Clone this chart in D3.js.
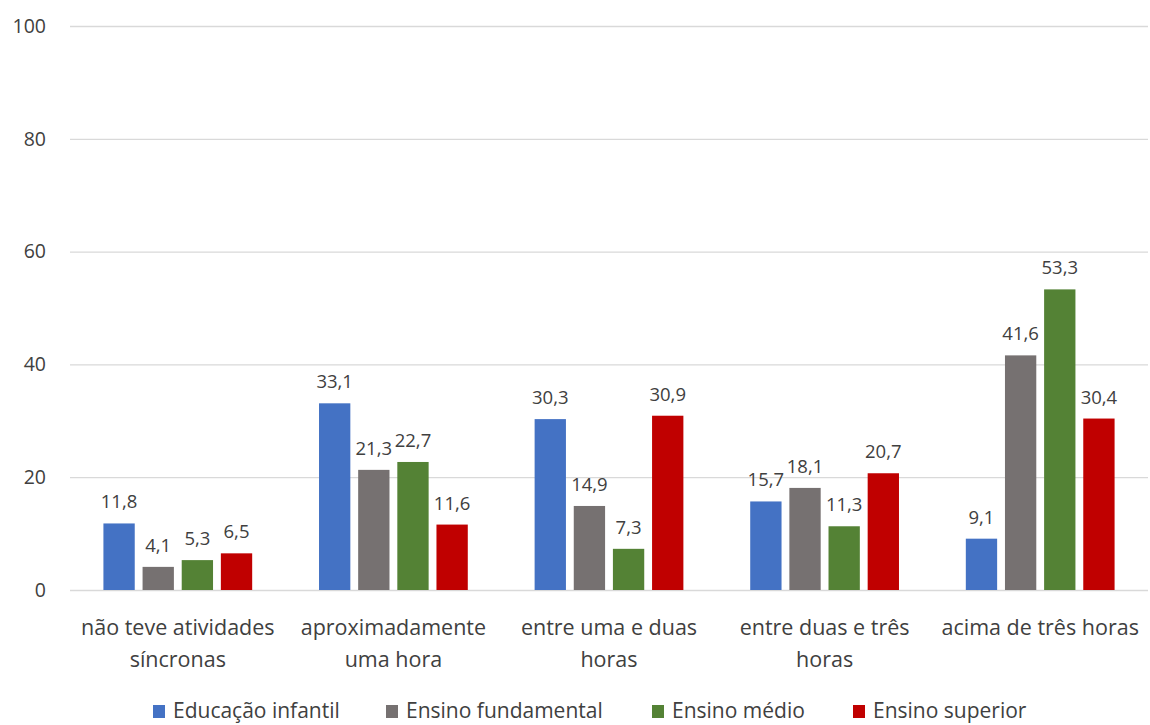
<!DOCTYPE html>
<html><head><meta charset="utf-8">
<script src="https://cdn.jsdelivr.net/npm/d3@7"></script>
<style>body{margin:0;background:#fff}text{font-family:"Open Sans","Noto Sans",sans-serif;fill:#404040}</style>
</head><body><svg id="c" width="1150" height="725"></svg>
<script>
const categories = [["não teve atividades","síncronas"],["aproximadamente","uma hora"],["entre uma e duas","horas"],["entre duas e três","horas"],["acima de três horas"]];
const seriesNames = ["Educação infantil","Ensino fundamental","Ensino médio","Ensino superior"];
const educacaoInfantil = [11.8,33.1,30.3,15.7,9.1];
const ensinoFundamental = [4.1,21.3,14.9,18.1,41.6];
const ensinoMedio = [5.3,22.7,7.3,11.3,53.3];
const ensinoSuperior = [6.5,11.6,30.9,20.7,30.4];
const yTicks = [0,20,40,60,80,100];
const colors = ["#4472C4","#767171","#548235","#C00000"];
const series = [educacaoInfantil,ensinoFundamental,ensinoMedio,ensinoSuperior];

const svg = d3.select("#c");
const pL=70,pR=1148,pT=26,pB=590;
const catIdx = categories.map((d,i)=>i);
const x0 = d3.scaleBand().domain(catIdx).range([pL,pR]).paddingInner(0.31).paddingOuter(0.155);
const x1 = d3.scaleBand().domain(d3.range(4)).range([0,x0.bandwidth()]).paddingInner(0.2);
const y = d3.scaleLinear().domain([0,100]).range([pB,pT]);

const yAxis = svg.append("g").attr("transform",`translate(${pL},0)`).call(d3.axisLeft(y).tickValues(yTicks).tickSize(-(pR-pL)).tickPadding(24));
yAxis.select(".domain").remove();
yAxis.selectAll(".tick line").attr("stroke","#d9d9d9").attr("stroke-width",1.3);
yAxis.selectAll(".tick text").style("font-size","19.5px").attr("fill","#404040");

const g = svg.append("g");
series.forEach((vals,s)=>{
  vals.forEach((v,i)=>{
    const bx = x0(i)+x1(s);
    g.append("rect").attr("x",bx).attr("y",y(v)).attr("width",x1.bandwidth()).attr("height",y(0)-y(v)).attr("fill",colors[s]);
    g.append("text").attr("x",bx+x1.bandwidth()/2).attr("y",y(v)-15).attr("text-anchor","middle").style("font-size","18.5px").text(String(v).replace(".",","));
  });
});

categories.forEach((lines,i)=>{
  const t = svg.append("text").attr("x",x0(i)+x0.bandwidth()/2).attr("y",635).attr("text-anchor","middle").style("font-size","21.5px");
  lines.forEach((l,j)=>t.append("tspan").attr("x",x0(i)+x0.bandwidth()/2).attr("dy",j?32:0).text(l));
});

const legX=[153,386,652,853];
seriesNames.forEach((n,s)=>{
  svg.append("rect").attr("x",legX[s]).attr("y",705).attr("width",12).attr("height",13).attr("fill",colors[s]);
  svg.append("text").attr("x",legX[s]+20).attr("y",718).style("font-size","21px").text(n);
});
</script></body></html>
